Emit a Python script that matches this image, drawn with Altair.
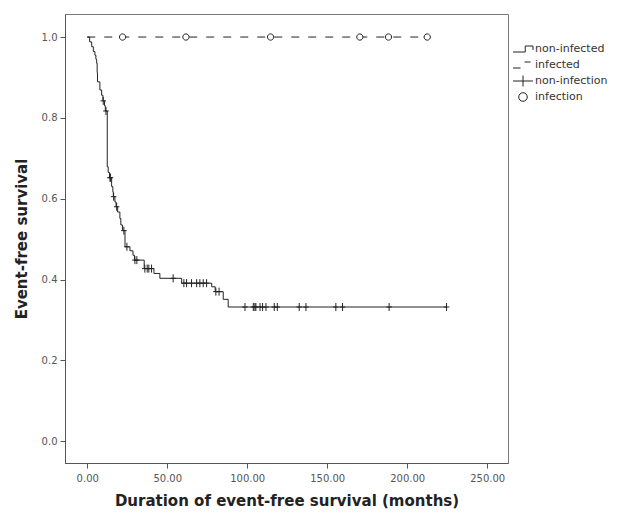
import altair as alt
import pandas as pd

# ---- data ----
# Non-infected Kaplan-Meier curve: step times (months) and survival after each step
ni_time = [0, 1.5, 2.8, 3.8, 4.8, 5.4, 5.9, 6.2, 6.4, 7.9,
           9.0, 9.8, 10.8, 11.3, 12.5, 13.1, 13.9, 15.25, 16.0, 16.3,
           17.3, 18.0, 19.0, 20.4, 21.0, 22.0, 23.6, 26.7, 28.6, 29.5,
           35.6, 41.7, 45.4, 59.0, 77.8, 80.0, 85.0, 88.1, 224.6]
ni_surv = [1.0, 0.988, 0.976, 0.964, 0.955, 0.945, 0.935, 0.912, 0.889, 0.869,
           0.856, 0.842, 0.83, 0.817, 0.679, 0.665, 0.652, 0.63, 0.617, 0.605,
           0.592, 0.58, 0.567, 0.551, 0.535, 0.521, 0.481, 0.471, 0.46, 0.448,
           0.427, 0.415, 0.403, 0.391, 0.382, 0.37, 0.351, 0.332, 0.332]
# Censored (non-infection) times
ni_censor = [10.0, 11.7, 14.2, 14.5, 16.5, 18.4, 22.9, 24.8, 29.8, 31.0,
             36.0, 37.5, 38.5, 40.2, 53.7, 60.4, 62.1, 65.2, 68.4, 70.4,
             72.5, 74.6, 80.4, 82.4, 98.6, 103.8, 104.8, 105.4, 108.0, 109.6,
             111.7, 116.9, 118.8, 132.5, 136.7, 155.4, 159.6, 188.7, 224.6]

# Infected curve (no events)
inf_time = [0, 212.5]
inf_surv = [1.0, 1.0]
inf_censor = [22.1, 61.7, 114.6, 170.4, 188.3, 212.5]

legend_labels = ["non-infected", "infected", "non-infection", "infection"]
x_ticks = [0, 50, 100, 150, 200, 250]
y_ticks = [0.0, 0.2, 0.4, 0.6, 0.8, 1.0]

# ---- tables ----
def surv_at(t):
    s = ni_surv[0]
    for tt, ss in zip(ni_time, ni_surv):
        if tt <= t:
            s = ss
    return s

ni_df = pd.DataFrame({"t": ni_time, "s": ni_surv})
inf_df = pd.DataFrame({"t": inf_time, "s": inf_surv})
cens_df = pd.concat([
    pd.DataFrame({"t": ni_censor, "s": [surv_at(t) for t in ni_censor],
                  "c": "non-infection"}),
    pd.DataFrame({"t": inf_censor, "s": [1.0] * len(inf_censor),
                  "c": "infection"}),
])
# rows that only carry the legend; they sit outside the plotted range and are clipped
leg_df = pd.DataFrame({"t": [-1000] * 4, "s": [1.0] * 4, "k": legend_labels})

step_path = "M-1.33,0.4H0.3V-0.4H1.33V0.13"
dash_path = "M-1.33,0.4H-0.33M0.2,-0.4H1.0"
plus_leg = "M-1.33,0H1.33M0,-0.73V0.73"
circ_path = "M0.57,0A0.57,0.57,0,1,1,-0.57,0A0.57,0.57,0,1,1,0.57,0Z"
plus_mark = "M-0.5,0H0.5M0,-0.73V0.73"

xs = alt.Scale(domain=[-13.9, 263], nice=False, zero=False)
ys = alt.Scale(domain=[-0.054, 1.057], nice=False, zero=False)
X = alt.X("t:Q", scale=xs, title="Duration of event-free survival (months)",
          axis=alt.Axis(values=x_ticks, format=".2f"))
Y = alt.Y("s:Q", scale=ys, title="Event-free survival",
          axis=alt.Axis(values=y_ticks, format=".1f"))

ni_line = alt.Chart(ni_df).mark_line(interpolate="step-after", color="#222",
                                     strokeWidth=1).encode(x=X, y=Y)
inf_line = alt.Chart(inf_df).mark_line(color="#222", strokeWidth=1,
                                       strokeDash=[8, 9]).encode(x=X, y=Y)

marks = alt.Chart(cens_df).mark_point(filled=True, fill="white", stroke="#222",
                                      strokeWidth=1, size=121, opacity=1).encode(
    x=X, y=Y,
    shape=alt.Shape("c:N", scale=alt.Scale(domain=["non-infection", "infection"],
                                           range=[plus_mark, circ_path]),
                    legend=None),
)

leg_layer = alt.Chart(leg_df).mark_point(filled=False, color="#222", opacity=1,
                                         strokeWidth=1, size=225, clip=True).encode(
    x=X, y=Y,
    shape=alt.Shape("k:N", title=None,
                    scale=alt.Scale(domain=legend_labels,
                                    range=[step_path, dash_path, plus_leg, circ_path]),
                    legend=alt.Legend(orient="none", legendX=450, legendY=27,
                                      symbolSize=225, rowPadding=0, gridAlign="all",
                                      symbolStrokeColor="#222",
                                      symbolStrokeWidth=1, symbolOpacity=1,
                                      labelFont="DejaVu Sans", labelFontSize=11,
                                      labelColor="#333", labelOffset=4)),
)

chart = alt.layer(ni_line, inf_line, marks, leg_layer).resolve_scale(
    shape="independent").resolve_legend(shape="independent").properties(
    width=443, height=449,
    autosize=alt.AutoSizeParams(type="none"),
    padding={"left": 57, "top": 6, "right": 112, "bottom": 55},
).configure_view(stroke="#777", strokeWidth=1).configure_axis(
    grid=False, domainColor="#555", tickColor="#555", tickSize=5,
    labelColor="#555", labelFont="DejaVu Sans", labelFontSize=10,
    titleFont="DejaVu Sans", titleFontSize=15, titleFontWeight="bold",
    titleColor="#222",
).configure_axisX(labelPadding=5, titlePadding=10).configure_axisY(
    labelPadding=3, titlePadding=12)

chart.save("out.html", embed_options={"renderer": "svg", "actions": False})
